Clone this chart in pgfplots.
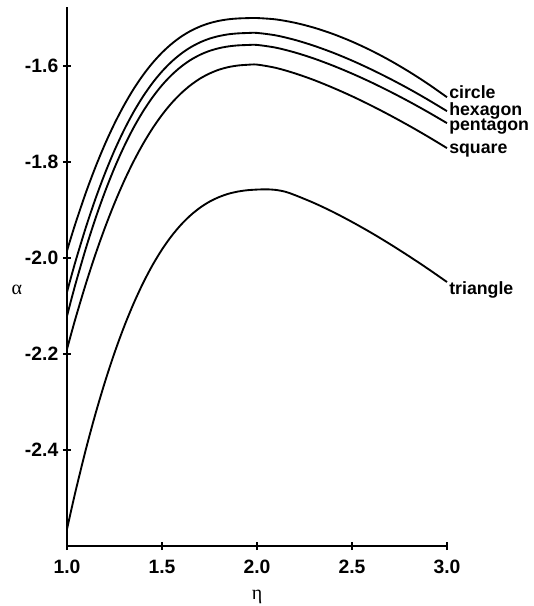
\documentclass[border=0pt]{standalone}
\usepackage{fontspec}
\setmainfont{Liberation Sans}
\newfontfamily\greek{Liberation Serif}
\usepackage{pgfplots}
\pgfplotsset{compat=1.18}
\tikzset{lbl/.style={pos=1, anchor=west, inner sep=0pt, xshift=1pt, font=\fontsize{13.3}{15}\selectfont\bfseries}}
\begin{document}
\begin{tikzpicture}
\begin{axis}[
  scale only axis,
  width=285pt, height=404.25pt,
  xmin=1, xmax=3, ymin=-2.6, ymax=-1.477,
  axis x line=bottom, axis y line=left,
  axis line style={-, line width=1.2pt},
  tick align=center,
  major tick length=6pt,
  tick style={line width=1.1pt, black},
  xtick={1,1.5,2,2.5,3},
  xticklabels={1.0,1.5,2.0,2.5,3.0},
  ytick={-2.4,-2.2,-2.0,-1.8,-1.6},
  yticklabels={-2.4,-2.2,-2.0,-1.8,-1.6},
  ticklabel style={font=\fontsize{14.5}{16}\selectfont\bfseries},
  xticklabel style={yshift=-4pt},
  clip=false,
  every axis x label/.style={at={(axis description cs:0.5,-0.094)},anchor=center},
  every axis y label/.style={at={(axis description cs:-0.1316,0.475)},anchor=center},
  xlabel={\fontsize{15}{16}\selectfont\greek η},
  ylabel={\fontsize{15}{16}\selectfont\greek α},
]
% circle
\addplot[black, line width=1.4pt, smooth, tension=0.5] coordinates {
(1.00,-1.9850)(1.01,-1.9718)(1.02,-1.9588)(1.03,-1.9460)(1.05,-1.9212)
(1.10,-1.8630)(1.15,-1.8103)(1.20,-1.7626)(1.25,-1.7199)(1.30,-1.6819)
(1.35,-1.6483)(1.40,-1.6190)(1.45,-1.5937)(1.50,-1.5721)(1.55,-1.5540)
(1.60,-1.5390)(1.65,-1.5270)(1.70,-1.5177)(1.75,-1.5107)(1.80,-1.5058)
(1.85,-1.5026)(1.90,-1.5009)(1.95,-1.5002)(2.00,-1.5000)
(2.10,-1.5029)(2.20,-1.5099)(2.30,-1.5201)(2.40,-1.5332)(2.50,-1.5491)
(2.60,-1.5675)(2.70,-1.5884)(2.80,-1.6117)(2.90,-1.6372)(3.00,-1.6650)
} node[lbl, yshift=4pt] {circle};
% hexagon
\addplot[black, line width=1.4pt, smooth, tension=0.5] coordinates {
(1.00,-2.0710)(1.01,-2.0563)(1.02,-2.0418)(1.03,-2.0276)(1.05,-1.9999)
(1.10,-1.9352)(1.15,-1.8764)(1.20,-1.8234)(1.25,-1.7758)(1.30,-1.7335)
(1.35,-1.6961)(1.40,-1.6635)(1.45,-1.6353)(1.50,-1.6113)(1.55,-1.5911)
(1.60,-1.5745)(1.65,-1.5611)(1.70,-1.5507)(1.75,-1.5429)(1.80,-1.5375)
(1.85,-1.5339)(1.90,-1.5320)(1.95,-1.5312)(2.00,-1.5310)
(2.10,-1.5362)(2.20,-1.5456)(2.30,-1.5578)(2.40,-1.5722)(2.50,-1.5886)
(2.60,-1.6068)(2.70,-1.6265)(2.80,-1.6476)(2.90,-1.6702)(3.00,-1.6940)
} node[lbl, yshift=0.5pt] {hexagon};
% pentagon
\addplot[black, line width=1.4pt, smooth, tension=0.5] coordinates {
(1.00,-2.1210)(1.01,-2.1056)(1.02,-2.0904)(1.03,-2.0756)(1.05,-2.0467)
(1.10,-1.9789)(1.15,-1.9174)(1.20,-1.8619)(1.25,-1.8121)(1.30,-1.7679)
(1.35,-1.7288)(1.40,-1.6947)(1.45,-1.6652)(1.50,-1.6400)(1.55,-1.6189)
(1.60,-1.6015)(1.65,-1.5875)(1.70,-1.5766)(1.75,-1.5685)(1.80,-1.5628)
(1.85,-1.5591)(1.90,-1.5570)(1.95,-1.5562)(2.00,-1.5560)
(2.10,-1.5618)(2.20,-1.5718)(2.30,-1.5844)(2.40,-1.5992)(2.50,-1.6157)
(2.60,-1.6337)(2.70,-1.6532)(2.80,-1.6739)(2.90,-1.6959)(3.00,-1.7190)
} node[lbl, yshift=-2.5pt] {pentagon};
% square
\addplot[black, line width=1.4pt, smooth, tension=0.5] coordinates {
(1.00,-2.1900)(1.01,-2.1753)(1.02,-2.1608)(1.03,-2.1465)(1.05,-2.1186)
(1.10,-2.0527)(1.15,-1.9920)(1.20,-1.9365)(1.25,-1.8859)(1.30,-1.8401)
(1.35,-1.7990)(1.40,-1.7624)(1.45,-1.7300)(1.50,-1.7018)(1.55,-1.6775)
(1.60,-1.6570)(1.65,-1.6400)(1.70,-1.6262)(1.75,-1.6156)(1.80,-1.6076)
(1.85,-1.6022)(1.90,-1.5989)(1.95,-1.5974)(2.00,-1.5970)
(2.10,-1.6039)(2.20,-1.6153)(2.30,-1.6292)(2.40,-1.6453)(2.50,-1.6629)
(2.60,-1.6821)(2.70,-1.7026)(2.80,-1.7243)(2.90,-1.7471)(3.00,-1.7710)
} node[lbl, yshift=-1.5pt] {square};
% triangle
\addplot[black, line width=1.4pt, smooth, tension=0.5] coordinates {
(1.00,-2.5650)(1.01,-2.5470)(1.02,-2.5292)(1.03,-2.5117)(1.05,-2.4777)
(1.10,-2.3976)(1.15,-2.3244)(1.20,-2.2579)(1.25,-2.1976)(1.30,-2.1435)
(1.35,-2.0953)(1.40,-2.0525)(1.45,-2.0149)(1.50,-1.9823)(1.55,-1.9543)
(1.60,-1.9307)(1.65,-1.9111)(1.70,-1.8952)(1.75,-1.8826)(1.80,-1.8731)
(1.85,-1.8661)(1.90,-1.8615)(1.95,-1.8587)(2.00,-1.8574)(2.05,-1.8569)
(2.10,-1.8582)(2.15,-1.8620)(2.20,-1.8690)(2.30,-1.8853)(2.40,-1.9040)
(2.50,-1.9248)(2.60,-1.9471)(2.70,-1.9710)(2.80,-1.9962)(2.90,-2.0225)(3.00,-2.0500)
} node[lbl, yshift=-6pt] {triangle};
\end{axis}
\pgfresetboundingbox
\path[use as bounding box] (-50.25pt,-45pt) rectangle (350.25pt,409.5pt);
\end{tikzpicture}
\end{document}
